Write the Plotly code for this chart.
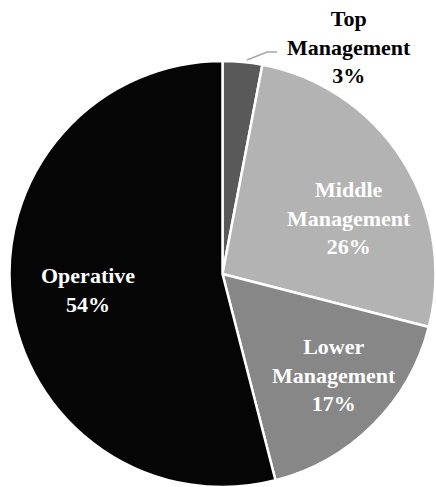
import plotly.graph_objects as go

categories = ["Top Management", "Middle Management", "Lower Management", "Operative"]
values = [3, 26, 17, 54]
colors = ["#595959", "#b3b3b3", "#878787", "#050505"]
label_colors = ["#000000", "#ffffff", "#ffffff", "#ffffff"]
# label centres in page pixels (x, y)
label_pos = [(349, 47), (349, 218), (334, 375), (88, 290)]

W, H = 436, 487
ML, MR, MT, MB = 9, 0, 61, 0
PW, PH = W - ML - MR, H - MT - MB


def px(x, y):
    return (x - ML) / PW, 1 - (y - MT) / PH


fig = go.Figure(go.Pie(
    labels=categories,
    values=values,
    sort=False,
    direction="clockwise",
    rotation=0,
    marker=dict(colors=colors, line=dict(color="#ffffff", width=2.5)),
    textinfo="none",
    showlegend=False,
))

annotations = []
for cat, val, col, (x, y) in zip(categories, values, label_colors, label_pos):
    ax, ay = px(x, y)
    annotations.append(dict(
        x=ax, y=ay, xref="paper", yref="paper",
        text="<b>" + cat.replace(" ", "<br>") + "<br>" + f"{val}%" + "</b>",
        showarrow=False, xanchor="center", yanchor="middle",
        font=dict(family="Liberation Serif", size=22, color=col),
    ))

p1 = px(247, 60)
p2 = px(267, 52)
p3 = px(277, 52)
fig.add_shape(type="path", xref="paper", yref="paper",
              path=f"M {p1[0]},{p1[1]} L {p2[0]},{p2[1]} L {p3[0]},{p3[1]}",
              line=dict(color="#a6a6a6", width=1.5))

fig.update_layout(
    width=W, height=H,
    margin=dict(l=ML, r=MR, t=MT, b=MB),
    paper_bgcolor="#ffffff",
    plot_bgcolor="#ffffff",
    annotations=annotations,
)

fig.write_html("out.html",
               config={"displayModeBar": False},
               post_script="document.body.style.margin='0';document.body.style.overflow='hidden';")
